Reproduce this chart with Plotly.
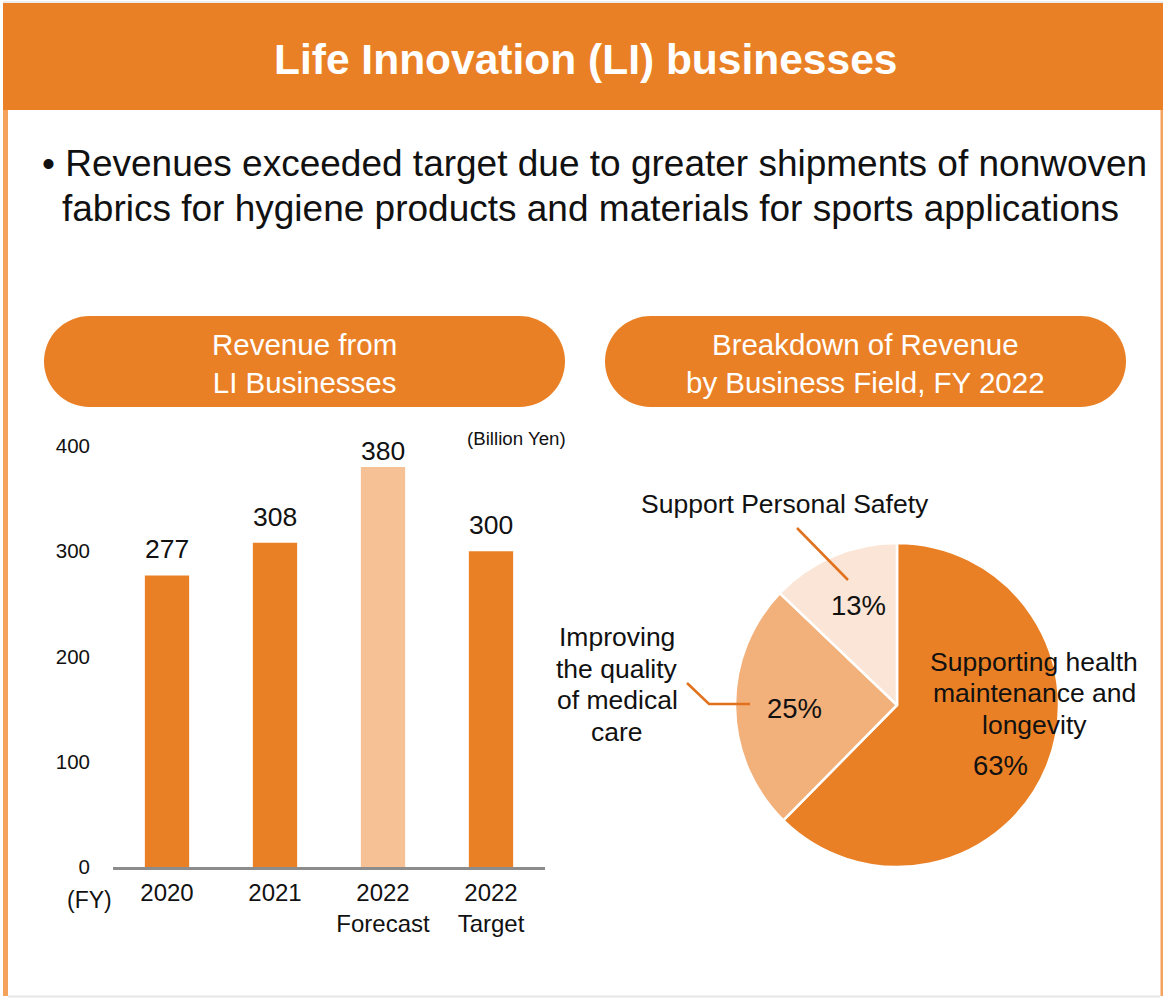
import plotly.graph_objects as go

W, H = 1163, 998

# ---------------- data ----------------
bar_categories = ["2020", "2021", "2022<br>Forecast", "2022<br>Target"]
bar_values = [277, 308, 380, 300]
y_ticks = [0, 100, 200, 300, 400]

pie_labels = ["Supporting health maintenance and longevity",
              "Improving the quality of medical care",
              "Support Personal Safety"]
pie_values = [63, 25, 13]
pie_label_lines = [["Supporting health", "maintenance and", "longevity"],
                   ["Improving", "the quality", "of medical", "care"],
                   ["Support Personal Safety"]]

title_text = "Life Innovation (LI) businesses"
bullet_lines = ["\u2022 Revenues exceeded target due to greater shipments of nonwoven",
                "fabrics for hygiene products and materials for sports applications"]
left_pill_text = "Revenue from<br>LI Businesses"
right_pill_text = "Breakdown of Revenue<br>by Business Field, FY 2022"

# ---------------- styles ----------------
ORANGE = "#EA8026"
FORECAST = "#F6C194"
MID = "#F2B07A"
PALE = "#FBE5D6"
LEADER = "#E2711D"
TXT = "#111111"
FONT = "Liberation Sans, Arial, sans-serif"


def X(px):
    return px / W


def Y(py):
    return 1 - py / H


fig = go.Figure()

bar_colors = [ORANGE, ORANGE, FORECAST, ORANGE]
fig.add_trace(go.Bar(
    x=bar_categories, y=bar_values, marker=dict(color=bar_colors, line=dict(width=0)),
    width=0.41, showlegend=False, hoverinfo="skip", xaxis="x", yaxis="y",
))

fig.add_trace(go.Pie(
    labels=pie_labels, values=pie_values, sort=False, direction="clockwise",
    rotation=0, textinfo="none", showlegend=False, hoverinfo="skip", automargin=False,
    marker=dict(colors=[ORANGE, MID, PALE], line=dict(color="white", width=2.5)),
    domain=dict(x=[X(735), X(1059)], y=[Y(867), Y(543)]),
))

shapes = []
# header band
shapes.append(dict(type="rect", xref="paper", yref="paper", x0=X(3), x1=X(1163), y0=Y(110), y1=Y(3),
                   fillcolor=ORANGE, line=dict(width=0), layer="below"))
# frame: left, right, bottom
shapes.append(dict(type="rect", xref="paper", yref="paper", x0=X(3), x1=X(8), y0=Y(996), y1=Y(110),
                   fillcolor="#F4A25C", line=dict(width=0), layer="below"))
shapes.append(dict(type="rect", xref="paper", yref="paper", x0=X(1160.5), x1=X(1163), y0=Y(996), y1=Y(110),
                   fillcolor="#F4A25C", line=dict(width=0), layer="below"))
shapes.append(dict(type="line", xref="paper", yref="paper", x0=X(8), x1=X(1160), y0=Y(996.5), y1=Y(996.5),
                   line=dict(color="#E6E6E6", width=2), layer="below"))
shapes.append(dict(type="line", xref="paper", yref="paper", x0=X(3), x1=X(1163), y0=Y(2), y1=Y(2),
                   line=dict(color="#EDEDED", width=2), layer="below"))


def pill(x0, x1, y0, y1):
    r = (y1 - y0) / 2
    return [dict(type="rect", xref="paper", yref="paper", x0=X(x0 + r), x1=X(x1 - r), y0=Y(y1), y1=Y(y0),
                 fillcolor=ORANGE, line=dict(width=0), layer="below"),
            dict(type="circle", xref="paper", yref="paper", x0=X(x0), x1=X(x0 + 2 * r), y0=Y(y1), y1=Y(y0),
                 fillcolor=ORANGE, line=dict(width=0), layer="below"),
            dict(type="circle", xref="paper", yref="paper", x0=X(x1 - 2 * r), x1=X(x1), y0=Y(y1), y1=Y(y0),
                 fillcolor=ORANGE, line=dict(width=0), layer="below")]


shapes += pill(44, 565, 316, 407)
shapes += pill(605, 1126, 316, 407)

# leader lines
shapes.append(dict(type="line", xref="paper", yref="paper", x0=X(797), y0=Y(528), x1=X(848), y1=Y(580),
                   line=dict(color=LEADER, width=2.5)))
shapes.append(dict(type="path", xref="paper", yref="paper",
                   path=f"M {X(687)},{Y(683)} L {X(709)},{Y(704)} L {X(750)},{Y(704)}",
                   line=dict(color=LEADER, width=2.5)))


def note(text, px, py, size, color=TXT, xanchor="center"):
    return dict(text=text, xref="paper", yref="paper", x=X(px), y=Y(py), showarrow=False,
                font=dict(size=size, color=color, family=FONT), xanchor=xanchor, yanchor="middle")


annotations = [
    note(f"<b>{title_text}</b>", 585, 60, 42.5, "white"),
    note(bullet_lines[0], 40, 163, 37, xanchor="left"),
    note(bullet_lines[1], 60, 208, 37, xanchor="left"),
    note(left_pill_text, 304, 363, 29.5, "white"),
    note(right_pill_text, 865, 363, 29.5, "white"),
    note("(Billion Yen)", 516, 438, 18.7),
    note("(FY)", 89, 900, 23),
]

# bar value labels (x given as category index)
label_shift = [9, 9, -1, 9]
for i, (v, s) in enumerate(zip(bar_values, label_shift)):
    annotations.append(dict(text=str(v), x=i, y=v, xref="x", yref="y", showarrow=False,
                            yanchor="bottom", yshift=s,
                            font=dict(size=26.5, color=TXT, family=FONT)))

# pie labels, one annotation per line
pie_label_x = [1034, 617, 785]
pie_label_y = [[662, 693, 725], [637, 669, 700, 732], [504]]
for lines, px, ys in zip(pie_label_lines, pie_label_x, pie_label_y):
    for line, py in zip(lines, ys):
        annotations.append(note(line, px, py, 26.5))

pct_pos = [(1000, 765), (794, 708), (858, 605)]
for (px, py), v in zip(pct_pos, pie_values):
    annotations.append(note(f"{v}%", px, py, 27.5))

fig.update_layout(
    template="none",
    width=W, height=H, margin=dict(l=0, r=0, t=0, b=0, pad=0, autoexpand=False),
    paper_bgcolor="white", plot_bgcolor="white", showlegend=False,
    font=dict(family=FONT, color=TXT),
    shapes=shapes, annotations=annotations,
    xaxis=dict(domain=[X(113), X(545)], type="category", range=[-0.5, 3.5], automargin=False,
               showline=True, linecolor="#8C8C8C", linewidth=2.5, showgrid=False, zeroline=False,
               ticks="", tickfont=dict(size=24, color=TXT, family=FONT), fixedrange=True,
               ticklabelstandoff=2),
    yaxis=dict(domain=[Y(867), Y(446)], range=[0, 400], tickvals=y_ticks, automargin=False,
               showgrid=False, zeroline=False, showline=False, ticks="",
               tickfont=dict(size=20.5, color=TXT, family=FONT),
               ticklabelstandoff=22, fixedrange=True),
    bargap=0.59,
)

post = ("var d=document.getElementById('{plot_id}');"
        "d.style.position='fixed';d.style.left='0px';d.style.top='0px';"
        "document.body.style.margin='0';document.body.style.overflow='hidden';"
        "document.documentElement.style.overflow='hidden';")

fig.write_html("out.html", post_script=post, config={"displayModeBar": False})
